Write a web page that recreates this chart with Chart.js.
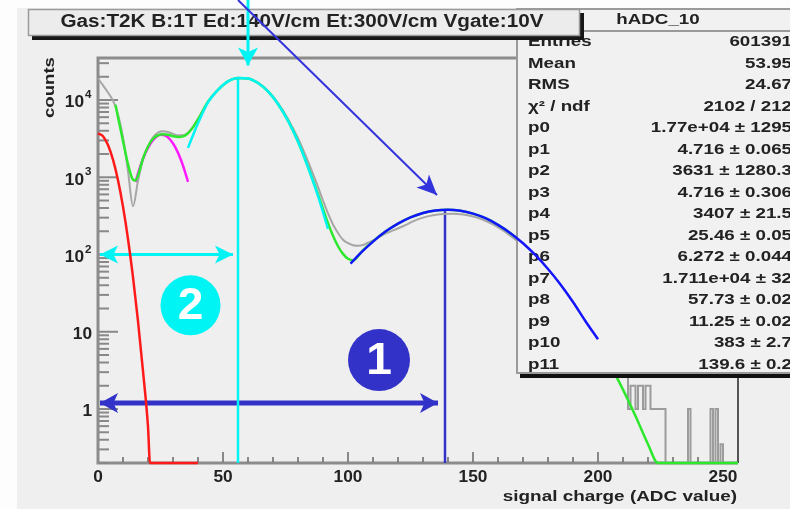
<!DOCTYPE html>
<html>
<head>
<meta charset="utf-8">
<script src="https://cdn.jsdelivr.net/npm/chart.js@4.4.1/dist/chart.umd.min.js"></script>
<style>
  html, body { margin: 0; padding: 0; background: #fff; }
  canvas { display: block; }
</style>
</head>
<body>
<canvas id="adcChart" width="790" height="509"></canvas>
<script>
// ---- values (x = ADC value, y = counts) ----
const histX = [0, 2, 4, 6, 8, 10, 12, 14, 16, 18, 20, 22, 24, 26, 28, 30, 32, 34, 36, 38, 40, 44, 48, 52, 56, 60, 64, 68, 72, 76, 80, 84, 88, 90, 92, 94, 96, 98, 100, 102, 104, 106, 108, 110, 114, 118, 122, 126, 130, 134, 138, 142, 146, 150, 154, 158, 162, 166, 170, 175, 180, 185, 190, 195, 200, 205, 209];
const histY = [19000, 15500, 12500, 9800, 6500, 3300, 1200, 420, 900, 1700, 2500, 3300, 3800, 3950, 3850, 3650, 3500, 3500, 3800, 4500, 5700, 9500, 13600, 17400, 19300, 19000, 16800, 13100, 9100, 5700, 3200, 1600, 750, 500, 340, 245, 190, 155, 140, 132, 130, 133, 142, 152, 180, 205, 232, 268, 300, 322, 335, 338, 330, 310, 282, 245, 205, 165, 130, 92, 62, 40, 24, 14, 8, 4.5, 3];

// histogram tail (bin start, counts); 0.2 = empty bin sitting on the axis
const tailX = [209, 212, 213, 215, 216, 218, 219, 221, 222, 227, 236, 237, 245, 246, 247, 248, 249, 250, 256];
const tailY = [3, 1, 2, 1, 2, 1, 2, 1, 1, 0.2, 1, 0.2, 1, 0.2, 1, 0.2, 0.35, 0.2, 0.2];

const redX = [0, 2, 4, 6, 8, 10, 12, 14, 16, 18, 20, 20.8, 40];
const redY = [3700, 3400, 2620, 1690, 916, 417, 159, 51, 13.7, 3.1, 0.59, 0.2, 0.2];

const magX = [15, 17, 19, 21, 23, 25, 27, 29, 31, 33, 35, 36];
const magY = [870, 1415, 2075, 2740, 3275, 3540, 3450, 3035, 2415, 1735, 1125, 870];

const greenX = [7, 8, 10, 12, 14, 15, 16, 18, 20, 22, 24, 26, 28, 30, 32, 34, 36, 38, 40, 44, 48, 52, 56, 60, 64, 68, 72, 76, 80, 84, 88, 92, 94, 96, 98, 100, 102, 106, 110, 115, 120, 125, 130, 135, 140, 145, 150, 155, 160, 165, 170, 175, 180, 185, 190, 195, 200, 205, 210, 215, 220, 224, 256];
const greenY = [8700, 6000, 2950, 1480, 930, 910, 1050, 1750, 2500, 3150, 3500, 3600, 3550, 3400, 3320, 3380, 3700, 4450, 5600, 9500, 13500, 17400, 19300, 19000, 16600, 12900, 8900, 5400, 2900, 1360, 600, 255, 175, 128, 102, 88, 84, 114, 148, 198, 251, 302, 345, 372, 380, 368, 338, 295, 242, 189, 140, 98, 65, 41, 24.3, 13.7, 8, 3.7, 1.78, 0.81, 0.35, 0.2, 0.2];

const cyanX = [36, 38, 40, 44, 48, 52, 56, 60, 64, 68, 72, 76, 80, 84, 88, 92];
const cyanY = [2400, 3500, 5000, 9300, 13500, 17400, 19300, 19000, 16600, 12900, 8900, 5400, 2900, 1350, 575, 215];

const blueX = [101, 105, 110, 115, 120, 125, 130, 135, 140, 145, 150, 155, 160, 165, 170, 175, 180, 185, 190, 195, 200];
const blueY = [76, 104, 147, 198, 251, 302, 345, 372, 380, 368, 338, 295, 242, 189, 140, 98, 65, 41, 24.3, 13.7, 8];

const xLabels = [0, 50, 100, 150, 200, 250];
const yDecades = [0, 1, 2, 3, 4];

const statNames = ["Entries", "Mean", "RMS", "\u03c7\u00b2 / ndf", "p0", "p1", "p2", "p3", "p4", "p5", "p6", "p7", "p8", "p9", "p10", "p11"];
const statValues = ["601391", "53.95", "24.67", "2102 / 212", "1.77e+04 \u00b1 1295", "4.716 \u00b1 0.065", "3631 \u00b1 1280.3", "4.716 \u00b1 0.306", "3407 \u00b1 21.5", "25.46 \u00b1 0.05", "6.272 \u00b1 0.044", "1.711e+04 \u00b1 32", "57.73 \u00b1 0.02", "11.25 \u00b1 0.02", "383 \u00b1 2.7", "139.6 \u00b1 0.2"];

const titleText = "Gas:T2K B:1T Ed:140V/cm Et:300V/cm Vgate:10V";

// annotation anchors (data units)
const peak2 = [56, 19300];
const peak1 = [138.8, 380];
const span2 = [0.8, 54, 100];
const span1 = [0.8, 136, 1.2];
const badge2 = [37, 22];
const badge1 = [112.4, 4.3];

const FONT = '"Liberation Sans", Arial, sans-serif';
const NAVY = '#3232c8';

const pts = (xs, ys) => xs.map((x, i) => ({ x: x, y: ys[i] }));

function txt(ctx, s, x, y, size, color, align, sx, weight) {
  ctx.save();
  ctx.font = (weight || 'bold') + ' ' + size + 'px ' + FONT;
  ctx.fillStyle = color;
  ctx.textAlign = align;
  ctx.textBaseline = 'middle';
  ctx.translate(x, y);
  ctx.scale(sx, 1);
  ctx.fillText(s, 0, 0);
  ctx.restore();
}

function head(ctx, x1, y1, x2, y2, len, half) {
  const a = Math.atan2(y2 - y1, x2 - x1);
  const c = Math.cos(a), s = Math.sin(a);
  ctx.beginPath();
  ctx.moveTo(x2, y2);
  ctx.lineTo(x2 - len * c + half * s, y2 - len * s - half * c);
  ctx.lineTo(x2 - len * 0.75 * c, y2 - len * 0.75 * s);
  ctx.lineTo(x2 - len * c - half * s, y2 - len * s + half * c);
  ctx.closePath();
  ctx.fill();
}

function arrow(ctx, x1, y1, x2, y2, color, lw, len, half, both) {
  ctx.save();
  ctx.strokeStyle = color;
  ctx.fillStyle = color;
  ctx.lineWidth = lw;
  ctx.beginPath();
  ctx.moveTo(x1, y1);
  ctx.lineTo(x2, y2);
  ctx.stroke();
  head(ctx, x1, y1, x2, y2, len, half);
  if (both) head(ctx, x2, y2, x1, y1, len, half);
  ctx.restore();
}

function badge(ctx, x, y, r, color, digit) {
  ctx.save();
  ctx.fillStyle = color;
  ctx.beginPath();
  ctx.arc(x, y, r, 0, Math.PI * 2);
  ctx.fill();
  ctx.restore();
  txt(ctx, digit, x, y + 2, 44, '#fff', 'center', 1.05);
}

function drawStats(chart) {
  const ctx = chart.ctx;
  ctx.save();
  ctx.fillStyle = '#111';
  ctx.fillRect(520, 12, 290, 366);
  ctx.fillStyle = '#f1f1f1';
  ctx.fillRect(516, 8, 290, 366);
  ctx.strokeStyle = '#9a9a9a';
  ctx.lineWidth = 2;
  ctx.strokeRect(517, 9, 290, 364);
  ctx.beginPath();
  ctx.moveTo(517, 31);
  ctx.lineTo(790, 31);
  ctx.stroke();
  ctx.restore();
  txt(ctx, 'hADC_10', 658, 20, 15, '#222', 'center', 1.25);
  statNames.forEach((name, i) => {
    const y = 42 + i * 21.5;
    txt(ctx, name, 528, y, 15, '#222', 'left', 1.25);
    txt(ctx, statValues[i], 792, y, 15, '#222', 'right', 1.25);
  });
}

const rootLook = {
  id: 'rootLook',
  beforeDraw(chart) {
    const ctx = chart.ctx;
    ctx.save();
    ctx.fillStyle = '#fdfdfd';
    ctx.fillRect(0, 0, chart.width, chart.height);
    ctx.fillStyle = '#efefef';
    ctx.fillRect(17, 8, chart.width - 17, chart.height - 8);
    ctx.restore();
  },
  beforeDatasetsDraw(chart) {
    const ctx = chart.ctx;
    const xs = chart.scales.x, ys = chart.scales.y;
    const { left, right, top, bottom } = chart.chartArea;

    // frame
    ctx.save();
    ctx.strokeStyle = '#8c8c8c';
    ctx.lineWidth = 3;
    ctx.beginPath();
    ctx.moveTo(right, top); ctx.lineTo(left, top); ctx.lineTo(left, bottom); ctx.lineTo(right, bottom);
    ctx.stroke();
    ctx.strokeStyle = '#555';
    ctx.lineWidth = 2;
    ctx.beginPath(); ctx.moveTo(right, top); ctx.lineTo(right, bottom); ctx.stroke();

    // x ticks, inside the frame
    ctx.strokeStyle = '#666';
    ctx.lineWidth = 1.5;
    xs.ticks.forEach(t => {
      if (t.value % 10 !== 0 || t.value === 0) return;
      const px = xs.getPixelForValue(t.value);
      const len = t.value % 50 === 0 ? 10 : 5;
      ctx.beginPath(); ctx.moveTo(px, bottom - 1); ctx.lineTo(px, bottom - 1 - len); ctx.stroke();
    });

    // y ticks (log)
    ctx.strokeStyle = '#888';
    ctx.lineWidth = 2;
    ys.ticks.forEach(t => {
      const e = Math.floor(Math.log10(t.value) + 1e-9);
      const m = t.value / Math.pow(10, e);
      if (Math.abs(m - Math.round(m)) > 1e-6) return;
      const py = ys.getPixelForValue(t.value);
      const len = Math.round(m) === 1 ? 19 : 10;
      ctx.beginPath(); ctx.moveTo(left + 1, py); ctx.lineTo(left + 1 + len, py); ctx.stroke();
    });
    ctx.restore();

    // tick labels
    xLabels.forEach(v => txt(ctx, String(v), xs.getPixelForValue(v), bottom + 15, 16, '#222', 'center', 1.08));
    yDecades.forEach(n => {
      const py = ys.getPixelForValue(Math.pow(10, n)) + 3;
      if (n < 2) {
        txt(ctx, n === 0 ? '1' : '10', 92, py, 16, '#222', 'right', 1.08);
      } else {
        txt(ctx, '10', 84, py, 16, '#222', 'right', 1.08);
        txt(ctx, String(n), 85, py - 8, 11, '#222', 'left', 1.05);
      }
    });

    // axis titles
    txt(ctx, 'signal charge (ADC value)', 737, 497, 15, '#222', 'right', 1.26);
    ctx.save();
    ctx.translate(50, 118);
    ctx.rotate(-Math.PI / 2);
    txt(ctx, 'counts', 0, 0, 15, '#222', 'left', 1.24);
    ctx.restore();

    // range arrows and numbered badges
    const a1y = ys.getPixelForValue(span1[2]);
    arrow(ctx, xs.getPixelForValue(span1[0]), a1y, xs.getPixelForValue(span1[1]), a1y, NAVY, 5, 18, 10, true);
    const a2y = ys.getPixelForValue(span2[2]);
    arrow(ctx, xs.getPixelForValue(span2[0]), a2y, xs.getPixelForValue(span2[1]), a2y, '#00f4f4', 3, 18, 9, true);
    badge(ctx, xs.getPixelForValue(badge2[0]), ys.getPixelForValue(badge2[1]), 30, '#00f4f4', '2');
    badge(ctx, xs.getPixelForValue(badge1[0]), ys.getPixelForValue(badge1[1]), 31, NAVY, '1');

    // peak marker lines
    ctx.save();
    ctx.lineWidth = 2.5;
    ctx.strokeStyle = '#00f4f4';
    let px = xs.getPixelForValue(peak2[0]);
    ctx.beginPath(); ctx.moveTo(px, ys.getPixelForValue(peak2[1])); ctx.lineTo(px, bottom); ctx.stroke();
    ctx.strokeStyle = NAVY;
    px = xs.getPixelForValue(peak1[0]);
    ctx.beginPath(); ctx.moveTo(px, ys.getPixelForValue(peak1[1])); ctx.lineTo(px, bottom); ctx.stroke();
    ctx.restore();
  },
  afterDatasetDraw(chart, args) {
    if (chart.data.datasets[args.index].label === 'cyan') drawStats(chart);
  },
  afterDraw(chart) {
    const ctx = chart.ctx;
    const xs = chart.scales.x, ys = chart.scales.y;
    // title box
    ctx.save();
    ctx.fillStyle = '#161616';
    ctx.fillRect(32, 13, 552, 27);
    ctx.fillStyle = '#ececec';
    ctx.fillRect(28, 9, 552, 27);
    ctx.strokeStyle = '#9a9a9a';
    ctx.lineWidth = 1.5;
    ctx.strokeRect(28.5, 9.5, 551, 26);
    ctx.restore();
    txt(ctx, titleText, 302, 22, 18, '#222', 'center', 1.15);

    // pointer arrows to the two peaks
    const cx = xs.getPixelForValue(60);
    arrow(ctx, cx, 0, cx, ys.getPixelForValue(28000), '#00f4f4', 3, 18, 10, false);
    arrow(ctx, xs.getPixelForValue(56), 0, xs.getPixelForValue(135.6), ys.getPixelForValue(590), '#3333dd', 2, 20, 9, false);
  }
};

const line = (label, xs, ys, color, width, order, extra) => Object.assign({
  label: label,
  data: pts(xs, ys),
  borderColor: color,
  borderWidth: width,
  pointRadius: 0,
  fill: false,
  cubicInterpolationMode: 'monotone',
  clip: 4,
  order: order
}, extra || {});

new Chart(document.getElementById('adcChart'), {
  type: 'line',
  data: {
    datasets: [
      line('blue', blueX, blueY, '#1414ff', 2.5, 1),
      line('cyan', cyanX, cyanY, '#00f4f4', 2.5, 2),
      line('green', greenX, greenY, '#2ee82e', 2.5, 3),
      line('magenta', magX, magY, '#ff1aff', 2.5, 4),
      line('red', redX, redY, '#ff1a1a', 2.5, 5),
      line('tail', tailX, tailY, '#9c9c9c', 2, 6, { stepped: 'before', cubicInterpolationMode: 'default' }),
      line('hist', histX, histY, '#a6a6a6', 2, 7)
    ]
  },
  options: {
    responsive: false,
    animation: false,
    devicePixelRatio: 1,
    layout: { padding: { left: 0, top: 58, right: 52, bottom: 0 } },
    plugins: { legend: { display: false }, tooltip: { enabled: false } },
    scales: {
      x: {
        type: 'linear', min: 0, max: 256,
        ticks: { display: false, stepSize: 10 },
        grid: { display: false }, border: { display: false },
        afterFit: s => { s.height = 46; }
      },
      y: {
        type: 'logarithmic', min: 0.2, max: 35000,
        ticks: { display: false },
        grid: { display: false }, border: { display: false },
        afterFit: s => { s.width = 98; }
      }
    }
  },
  plugins: [rootLook]
});
</script>
</body>
</html>
